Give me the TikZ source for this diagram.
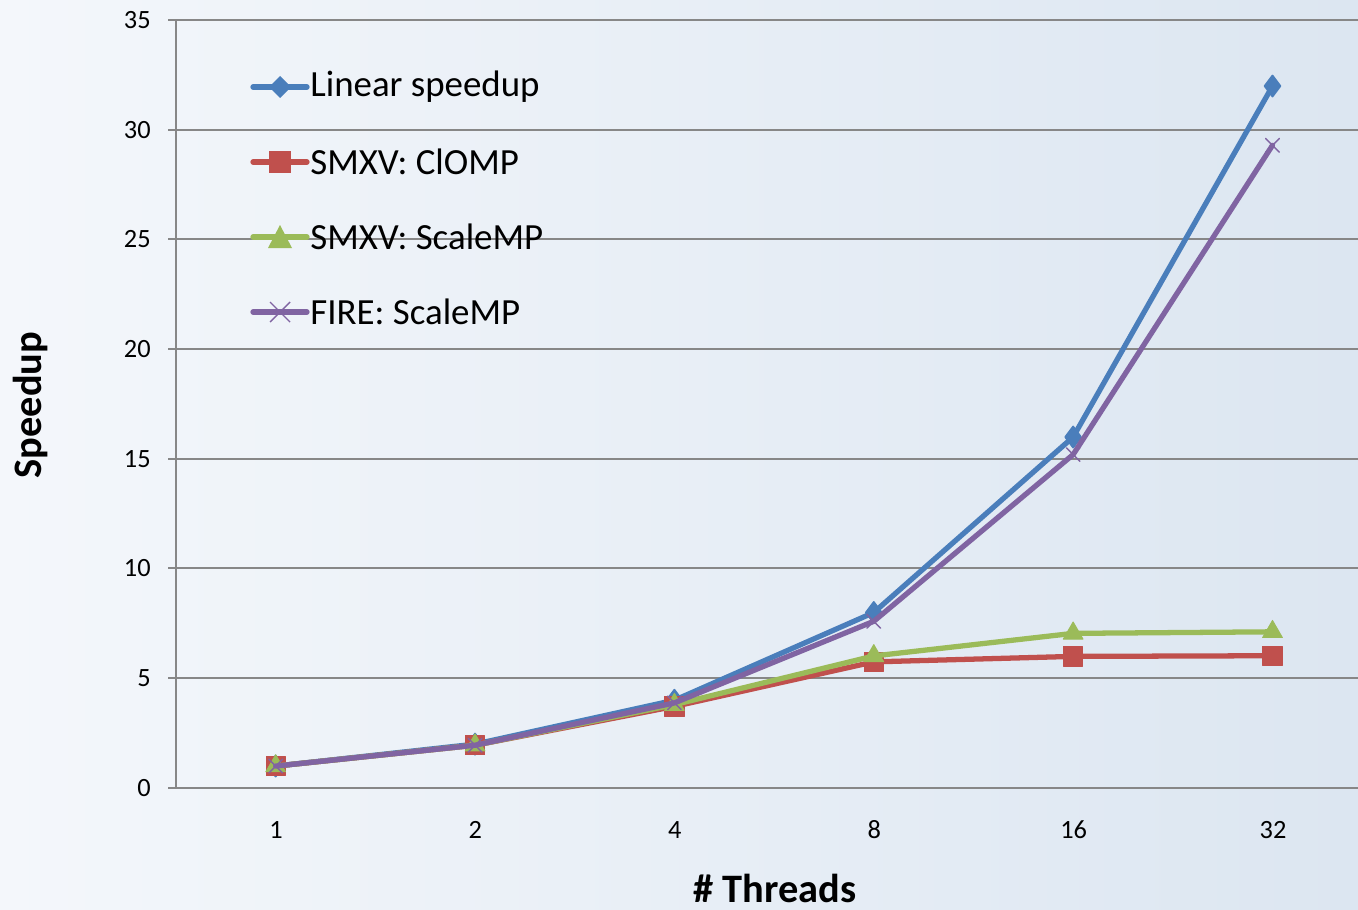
\documentclass[tikz,border=0pt]{standalone}
\usepackage{fontspec}
\setmainfont{Carlito}
\usetikzlibrary{calc,plotmarks}
\usepackage{xcolor}
\definecolor{bgleft}{HTML}{F4F7FB}
\definecolor{bgright}{HTML}{DCE6F1}
\definecolor{gridc}{HTML}{878787}
\definecolor{linblue}{HTML}{4A7EBB}
\definecolor{clred}{HTML}{C0504D}
\definecolor{smgreen}{HTML}{9BBB59}
\definecolor{firepurple}{HTML}{8064A2}

\begin{document}
\begin{tikzpicture}[x=0.02cm, y=-0.02cm,
	tick/.style={font=\fontsize{15}{17}\selectfont, inner sep=0pt},
	legtext/.style={font=\fontsize{21}{24}\selectfont, anchor=west, inner sep=0pt},
	axtitle/.style={font=\fontsize{23}{26}\selectfont\bfseries, inner sep=0pt},
	series/.style={line width=3pt, line join=round, line cap=round}]
	\def\gw{1358};
	\def\gh{909};
	% background
	\shade[left color=bgleft, right color=bgright] (0,0) rectangle (\gw,\gh);
	\useasboundingbox (0,0) rectangle (\gw,\gh);
	% grid and axes
	\foreach \v/\py in {5/678,10/568,15/459,20/349,25/239,30/130,35/20}{
		\draw[gridc, line width=1pt] (168,\py) -- (\gw,\py);
		\node[tick, anchor=east] (ylab\v) at (151,\py) {\v};
	}
	\node[tick, anchor=east] (ylab0) at (151,788) {0};
	\draw[gridc, line width=1.1pt] (176,20) -- (176,788);
	\draw[gridc, line width=1.1pt] (168,788) -- (\gw,788);
	\foreach \t [count=\i] in {1,2,4,8,16,32}{
		\node[tick] (xlab\t) at ({276+199.4*(\i-1)},830) {\t};
	}
	\node[axtitle] (xtitle) at (775,888) {\# Threads};
	\node[axtitle, rotate=90] (ytitle) at (30,405) {Speedup};
	% data
	\begin{scope}[shift={(176,788)}, x=3.988cm, y=0.4388cm]
		\draw[series, linblue] plot[mark=diamond*, mark size=6pt, mark options={solid, fill=linblue, line width=1pt}]
			coordinates {(0.5,1) (1.5,2) (2.5,4) (3.5,8) (4.5,16) (5.5,32)};
		\draw[series, clred] plot[mark=square*, mark size=5.5pt, mark options={fill=clred, line width=0.5pt}]
			coordinates {(0.5,1) (1.5,1.95) (2.5,3.72) (3.5,5.75) (4.5,6.0) (5.5,6.03)};
		\draw[series, smgreen] plot[mark=triangle*, mark size=6.5pt, mark options={fill=smgreen, line width=0.5pt}]
			coordinates {(0.5,1) (1.5,1.95) (2.5,3.8) (3.5,6.02) (4.5,7.05) (5.5,7.12)};
		\draw[series, firepurple] plot[mark=x, mark size=5.5pt, mark options={line width=0.8pt}]
			coordinates {(0.5,1) (1.5,1.95) (2.5,3.88) (3.5,7.6) (4.5,15.2) (5.5,29.3)};
	\end{scope}
	% legend
	\draw[series, linblue] (253,87) -- (307,87);
	\fill[linblue] (280,76) -- (291,87) -- (280,98) -- (269,87) -- cycle;
	\node[legtext] (leglin) at (310,87) {Linear speedup};
	\draw[series, clred] (253,162) -- (307,162);
	\fill[clred] (269,151) rectangle (291,173);
	\node[legtext] (legcl) at (310,162) {SMXV: ClOMP};
	\draw[series, smgreen] (253,237) -- (307,237);
	\fill[smgreen] (280,225) -- (292,248) -- (268,248) -- cycle;
	\node[legtext] (legsm) at (310,237) {SMXV: ScaleMP};
	\draw[series, firepurple] (253,312) -- (307,312);
	\draw[firepurple, line width=0.8pt] (270,302) -- (290,322) (270,322) -- (290,302);
	\node[legtext] (legfire) at (310,312) {FIRE: ScaleMP};
\end{tikzpicture}
\end{document}
